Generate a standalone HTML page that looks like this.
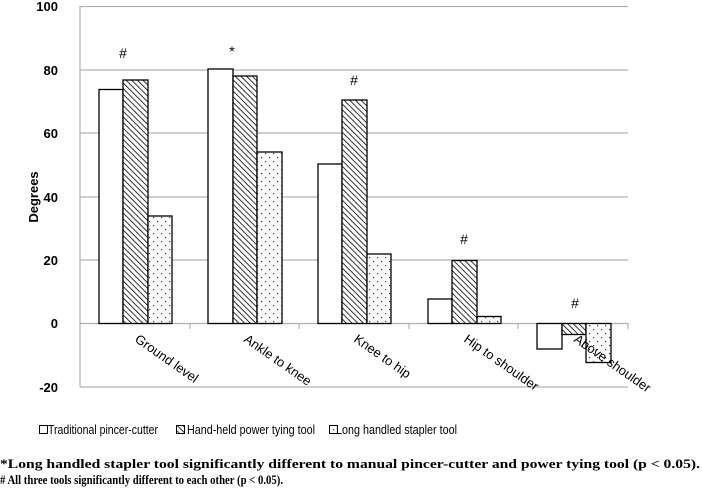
<!DOCTYPE html>
<html><head><meta charset="utf-8"><style>body{margin:0;background:#fff}svg{display:block}</style></head><body>
<svg width="702" height="492" viewBox="0 0 702 492" xmlns="http://www.w3.org/2000/svg">
<defs>
<pattern id="hatch" width="4" height="4" patternUnits="userSpaceOnUse" patternTransform="rotate(-45)">
<rect width="4" height="4" fill="#fff"/><line x1="0" y1="0" x2="0" y2="4" stroke="#000" stroke-width="1.6"/>
</pattern>
<pattern id="dots" width="8" height="8" patternUnits="userSpaceOnUse">
<rect width="8" height="8" fill="#fff"/><rect x="1" y="1" width="1.2" height="1.2" fill="#333"/><rect x="5" y="5" width="1.2" height="1.2" fill="#333"/>
</pattern>
</defs>
<g stroke="#b0b0b0" stroke-width="1.2">
<line x1="80" y1="6.5" x2="628" y2="6.5"/>
<line x1="80" y1="70" x2="628" y2="70"/>
<line x1="80" y1="133" x2="628" y2="133"/>
<line x1="80" y1="197" x2="628" y2="197"/>
<line x1="80" y1="260" x2="628" y2="260"/>
<line x1="80" y1="387" x2="628" y2="387"/>
<line x1="80" y1="6" x2="80" y2="387"/>
<line x1="80" y1="323.5" x2="628" y2="323.5"/>
<line x1="190" y1="323" x2="190" y2="329"/><line x1="299" y1="323" x2="299" y2="329"/><line x1="409" y1="323" x2="409" y2="329"/><line x1="518" y1="323" x2="518" y2="329"/><line x1="628" y1="323" x2="628" y2="329"/>
</g>
<g font-family="Liberation Sans, sans-serif" font-size="13" font-weight="bold" text-anchor="end" fill="#000">
<text x="58" y="11">100</text><text x="58" y="75">80</text><text x="58" y="138">60</text><text x="58" y="202">40</text><text x="58" y="265">20</text><text x="58" y="328">0</text><text x="58" y="392">-20</text>
</g>
<text transform="translate(38,197) rotate(-90)" font-family="Liberation Sans, sans-serif" font-size="13" font-weight="bold" text-anchor="middle">Degrees</text>
<g stroke="#000" stroke-width="1.3">
<rect x="99" y="89.5" width="24" height="234" fill="#fff"/>
<rect x="123" y="80" width="25" height="243.5" fill="url(#hatch)"/>
<rect x="148" y="216" width="24" height="107.5" fill="url(#dots)"/>
<rect x="208" y="69" width="25" height="254.5" fill="#fff"/>
<rect x="233" y="76" width="24" height="247.5" fill="url(#hatch)"/>
<rect x="257" y="152" width="25" height="171.5" fill="url(#dots)"/>
<rect x="318" y="164" width="24" height="159.5" fill="#fff"/>
<rect x="342" y="100" width="25" height="223.5" fill="url(#hatch)"/>
<rect x="367" y="254" width="24" height="69.5" fill="url(#dots)"/>
<rect x="428" y="299" width="24" height="24.5" fill="#fff"/>
<rect x="452" y="260.5" width="25" height="63" fill="url(#hatch)"/>
<rect x="477" y="316.5" width="24" height="7" fill="url(#dots)"/>
<rect x="537" y="323.5" width="25" height="25.5" fill="#fff"/>
<rect x="562" y="323.5" width="24" height="11" fill="url(#hatch)"/>
<rect x="586" y="323.5" width="25" height="39" fill="url(#dots)"/>
</g>
<g font-family="Liberation Sans, sans-serif" font-size="14" text-anchor="middle">
<text x="123" y="58">#</text><text x="232" y="56">*</text><text x="354" y="85">#</text><text x="464" y="244">#</text><text x="575" y="308">#</text>
</g>
<g font-family="Liberation Sans, sans-serif" font-size="13">
<text transform="translate(134,341) rotate(35)">Ground level</text>
<text transform="translate(243,341) rotate(35)">Ankle to knee</text>
<text transform="translate(353,341) rotate(35)">Knee to hip</text>
<text transform="translate(463,341) rotate(35)">Hip to shoulder</text>
<text transform="translate(573,341) rotate(35)">Above shoulder</text>
</g>
<g font-family="Liberation Sans, sans-serif" font-size="13">
<rect x="39.5" y="425.5" width="8" height="8" fill="#fff" stroke="#000"/>
<text x="48" y="434" textLength="110" lengthAdjust="spacingAndGlyphs">Traditional pincer-cutter</text>
<rect x="176.5" y="425.5" width="8" height="8" fill="url(#hatch)" stroke="#000"/>
<text x="187" y="434" textLength="128" lengthAdjust="spacingAndGlyphs">Hand-held power tying tool</text>
<rect x="329.5" y="425.5" width="8" height="8" fill="url(#dots)" stroke="#000"/>
<text x="336" y="434" textLength="121" lengthAdjust="spacingAndGlyphs">Long handled stapler tool</text>
</g>
<g font-family="Liberation Serif, serif" font-size="13" font-weight="bold">
<text x="0" y="468" textLength="700" lengthAdjust="spacingAndGlyphs">*Long handled stapler tool significantly different to manual pincer-cutter and power tying tool (p &lt; 0.05).</text>
<text x="0" y="484" textLength="283" lengthAdjust="spacingAndGlyphs"># All three tools significantly different to each other (p &lt; 0.05).</text>
</g>
</svg>
</body></html>
